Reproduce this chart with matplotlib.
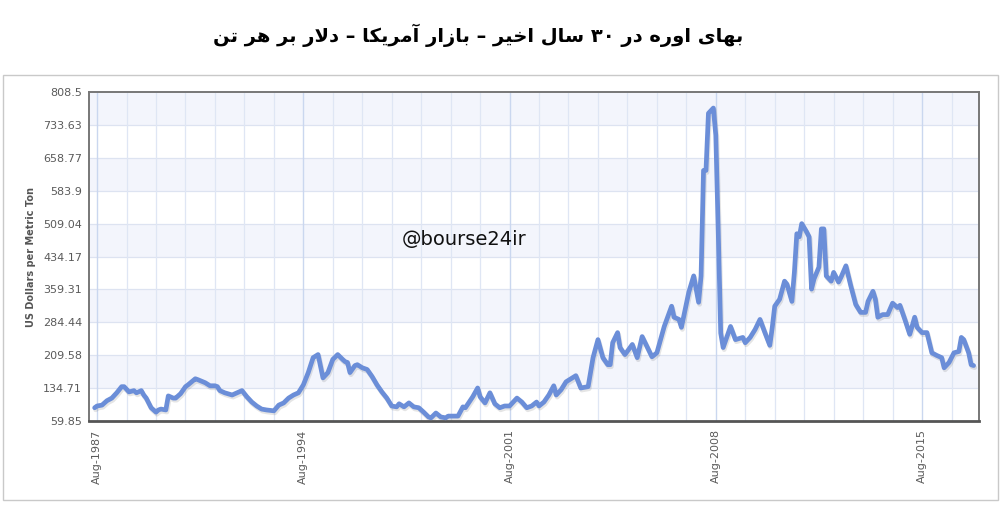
import numpy as np
import matplotlib
matplotlib.use("Agg")
import matplotlib.pyplot as plt
import matplotlib.transforms as mtransforms
from matplotlib.patches import Rectangle

# ---------------- data ----------------
title_fa = "بهای اوره در ۳۰ سال اخیر – بازار آمریکا – دلار بر هر تن"
y_label = "US Dollars per Metric Ton"
watermark = "@bourse24ir"

months = [
    "1987-07", "1987-08", "1987-10", "1987-12", "1988-02", "1988-04", "1988-06", "1988-07",
    "1988-09", "1988-11", "1988-12", "1989-02", "1989-03", "1989-04", "1989-06", "1989-08",
    "1989-09", "1989-10", "1989-12", "1990-01", "1990-03", "1990-04", "1990-06", "1990-08",
    "1990-09", "1990-12", "1991-01", "1991-04", "1991-06", "1991-08", "1991-09", "1991-10",
    "1991-12", "1992-03", "1992-05", "1992-07", "1992-09", "1992-11", "1993-01", "1993-03",
    "1993-05", "1993-08", "1993-10", "1993-12", "1994-02", "1994-04", "1994-06", "1994-08",
    "1994-10", "1994-12", "1995-02", "1995-04", "1995-06", "1995-08", "1995-10", "1995-12",
    "1996-01", "1996-02", "1996-03", "1996-05", "1996-06", "1996-08", "1996-10", "1996-12",
    "1997-02", "1997-04", "1997-06", "1997-08", "1997-10", "1997-11", "1998-01", "1998-03",
    "1998-05", "1998-07", "1998-09", "1998-11", "1998-12", "1999-02", "1999-04", "1999-06",
    "1999-07", "1999-11", "2000-01", "2000-02", "2000-05", "2000-07", "2000-08", "2000-10",
    "2000-12", "2001-02", "2001-04", "2001-06", "2001-08", "2001-11", "2002-01", "2002-03",
    "2002-05", "2002-07", "2002-08", "2002-10", "2002-12", "2003-02", "2003-03", "2003-05",
    "2003-07", "2003-09", "2003-11", "2004-01", "2004-04", "2004-06", "2004-08", "2004-10",
    "2004-12", "2005-01", "2005-02", "2005-04", "2005-05", "2005-07", "2005-10", "2005-12",
    "2006-02", "2006-06", "2006-08", "2006-11", "2007-02", "2007-03", "2007-05", "2007-06",
    "2007-09", "2007-11", "2008-01", "2008-02", "2008-03", "2008-04", "2008-05", "2008-07",
    "2008-08", "2008-09", "2008-10", "2008-11", "2009-02", "2009-04", "2009-07", "2009-08",
    "2009-10", "2009-12", "2010-02", "2010-04", "2010-06", "2010-07", "2010-08", "2010-10",
    "2010-12", "2011-01", "2011-03", "2011-04", "2011-05", "2011-06", "2011-07", "2011-09",
    "2011-10", "2011-11", "2011-12", "2012-02", "2012-03", "2012-04", "2012-05", "2012-07",
    "2012-08", "2012-10", "2012-11", "2013-01", "2013-03", "2013-05", "2013-07", "2013-09",
    "2013-10", "2013-12", "2014-01", "2014-02", "2014-04", "2014-06", "2014-08", "2014-10",
    "2014-11", "2015-01", "2015-03", "2015-05", "2015-06", "2015-08", "2015-10", "2015-12",
    "2016-02", "2016-04", "2016-05", "2016-07", "2016-09", "2016-11", "2016-12", "2017-01",
    "2017-03", "2017-04", "2017-05",
]
prices = [
    90, 94, 96, 106, 112, 124, 138, 138,
    126, 129, 124, 129, 119, 112, 90, 80,
    85, 87, 85, 117, 112, 112, 122, 138,
    142, 156, 154, 147, 140, 140, 138, 129,
    124, 119, 124, 129, 115, 103, 94, 87,
    85, 83, 96, 101, 112, 119, 124, 142,
    170, 204, 211, 158, 170, 200, 211, 200,
    195, 193, 170, 186, 188, 181, 177, 161,
    142, 126, 112, 94, 92, 99, 92, 101,
    92, 90, 80, 69, 67, 78, 69, 67,
    71, 71, 92, 90, 115, 135, 115, 101,
    124, 99, 90, 94, 94, 112, 103, 90,
    94, 103, 94, 103, 119, 140, 119, 131,
    149, 156, 163, 135, 138, 204, 245, 204,
    188, 188, 238, 261, 227, 211, 234, 204,
    252, 206, 215, 275, 321, 296, 291, 273,
    353, 390, 330, 390, 630, 630, 760, 772,
    710, 490, 260, 227, 275, 245, 250, 238,
    250, 268, 291, 261, 232, 273, 321, 337,
    378, 371, 332, 398, 486, 479, 509, 490,
    479, 360, 383, 410, 497, 497, 390, 378,
    398, 376, 387, 413, 367, 325, 307, 307,
    332, 355, 337, 296, 302, 302, 328, 318,
    323, 291, 257, 296, 273, 261, 261, 215,
    209, 204, 181, 193, 215, 218, 250, 245,
    215, 188, 186,
]

y_ticks = [59.85, 134.71, 209.58, 284.44, 359.31, 434.17, 509.04, 583.9, 658.77, 733.63, 808.5]
y_tick_labels = ["59.85", "134.71", "209.58", "284.44", "359.31", "434.17",
                 "509.04", "583.9", "658.77", "733.63", "808.5"]
x_tick_labels = ["Aug-1987", "Aug-1994", "Aug-2001", "Aug-2008", "Aug-2015"]
grid_years = list(range(1987, 2017))  # an August gridline every year

# ---------------- Persian shaping (matplotlib has no complex text layout) ----------------
FORMS = {
    'ا': ('\uFE8D', '\uFE8E', None, None),
    'آ': ('\uFE81', '\uFE82', None, None),
    'ب': ('\uFE8F', '\uFE90', '\uFE91', '\uFE92'),
    'ت': ('\uFE95', '\uFE96', '\uFE97', '\uFE98'),
    'خ': ('\uFEA5', '\uFEA6', '\uFEA7', '\uFEA8'),
    'د': ('\uFEA9', '\uFEAA', None, None),
    'ر': ('\uFEAD', '\uFEAE', None, None),
    'ز': ('\uFEAF', '\uFEB0', None, None),
    'س': ('\uFEB1', '\uFEB2', '\uFEB3', '\uFEB4'),
    'ک': ('\uFB8E', '\uFB8F', '\uFB90', '\uFB91'),
    'ل': ('\uFEDD', '\uFEDE', '\uFEDF', '\uFEE0'),
    'م': ('\uFEE1', '\uFEE2', '\uFEE3', '\uFEE4'),
    'ن': ('\uFEE5', '\uFEE6', '\uFEE7', '\uFEE8'),
    'ه': ('\uFEE9', '\uFEEA', '\uFEEB', '\uFEEC'),
    'و': ('\uFEED', '\uFEEE', None, None),
    'ی': ('\uFEEF', '\uFEF0', '\uFEF3', '\uFEF4'),
}
LAM_ALEF = {'ا': ('\uFEFB', '\uFEFC'), 'آ': ('\uFEF5', '\uFEF6')}
DIGITS = set("۰۱۲۳۴۵۶۷۸۹0123456789")


def shape_rtl(text):
    chars = list(text)
    n = len(chars)

    def dual(c):
        return c in FORMS and FORMS[c][2] is not None

    res = []
    i = 0
    while i < n:
        c = chars[i]
        if c not in FORMS:
            res.append(c)
            i += 1
            continue
        prev = chars[i - 1] if i > 0 else ''
        jp = dual(prev)
        if c == 'ل' and i + 1 < n and chars[i + 1] in LAM_ALEF:
            lig = LAM_ALEF[chars[i + 1]]
            res.append(lig[1] if jp else lig[0])
            i += 2
            continue
        nxt = chars[i + 1] if i + 1 < n else ''
        jn = dual(c) and nxt in FORMS
        iso, fin, ini, med = FORMS[c]
        if jp and jn:
            g = med
        elif jp:
            g = fin
        elif jn:
            g = ini
        else:
            g = iso
        res.append(g)
        i += 1
    vis = res[::-1]
    out = []
    j = 0
    while j < len(vis):
        if vis[j] in DIGITS:
            k = j
            while k < len(vis) and vis[k] in DIGITS:
                k += 1
            out.extend(vis[j:k][::-1])
            j = k
        else:
            out.append(vis[j])
            j += 1
    return "".join(out)


# ---------------- figure ----------------
W, H = 1003, 515
fig = plt.figure(figsize=(W / 100, H / 100), dpi=100)
fig.patch.set_facecolor("white")

fig.patches.append(Rectangle((3 / W, 1 - 500 / H), 995 / W, 425 / H, transform=fig.transFigure,
                             fill=False, edgecolor="#c9c9c9", linewidth=1.0, zorder=0))

ax = fig.add_axes([89 / W, 1 - 421 / H, 890 / W, 329 / H])

x = np.array([int(m[:4]) * 12 + int(m[5:7]) - 1 for m in months], dtype=float)
y = np.array(prices, dtype=float)
aug0 = 1987 * 12 + 7

ax.set_xlim(aug0 - 3.3, aug0 + 359.2)
ax.set_ylim(y_ticks[0], y_ticks[-1])

for k in range(len(y_ticks) - 1):
    if k % 2 == 1:
        ax.axhspan(y_ticks[k], y_ticks[k + 1], color="#f3f5fc", zorder=0, lw=0)

for yt in y_ticks[1:-1]:
    ax.axhline(yt, color="#dde3f1", lw=0.9, zorder=1)
major_years = [int(s[-4:]) for s in x_tick_labels]
for yr in grid_years:
    xv = yr * 12 + 7
    col = "#cad7ef" if yr in major_years else "#dfe6f4"
    ax.axvline(xv, color=col, lw=1.0 if yr in major_years else 0.9, zorder=1)

shadow = mtransforms.offset_copy(ax.transData, fig=fig, x=1.0, y=-2.0, units="dots")
ax.plot(x, y, color="#000000", alpha=0.10, lw=3.5, transform=shadow, zorder=2,
        solid_joinstyle="round", solid_capstyle="round")
ax.plot(x, y, color="#6b8ed8", lw=3.4, zorder=3, solid_joinstyle="round", solid_capstyle="round")

ax.set_yticks(y_ticks)
ax.set_yticklabels(y_tick_labels)
ax.set_xticks([int(s[-4:]) * 12 + 7 for s in x_tick_labels])
ax.set_xticklabels(x_tick_labels, rotation=90, va="top", ha="center")
ax.tick_params(axis="both", length=0, labelsize=8, labelcolor="#5a5a5a")
ax.tick_params(axis="y", pad=5)
ax.tick_params(axis="x", pad=6)

for s in ["left", "top", "right"]:
    ax.spines[s].set_color("#777777")
    ax.spines[s].set_linewidth(1.4)
ax.spines["bottom"].set_color("#555555")
ax.spines["bottom"].set_linewidth(2.0)

fig.text(31 / W, 1 - 257 / H, y_label, rotation=90, ha="center", va="center",
         fontsize=7, fontweight="bold", color="#555555")

ax.text(402 / W, 1 - 240 / H, watermark, transform=fig.transFigure, ha="left", va="center",
        fontsize=14, color="#111111", zorder=5)

fig.text(478 / W, 1 - 35 / H, shape_rtl(title_fa), ha="center", va="center",
         fontsize=14, fontweight="bold", color="#000000", family=["DejaVu Sans"])

fig.savefig("out.png", dpi=100, facecolor="white")
